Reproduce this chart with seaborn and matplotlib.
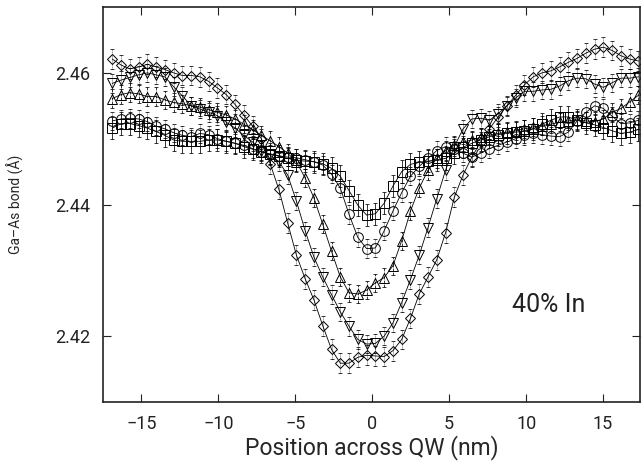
import numpy as np
import pandas as pd
import matplotlib
matplotlib.use('Agg')
import matplotlib.pyplot as plt
import seaborn as sns

# position across the quantum well (nm), one point per lattice spacing
pos = np.round(-16.9 + 0.57 * np.arange(61), 3)

# Ga-As bond length (A) for the five profiles
bond_square = [2.4516, 2.4523, 2.4523, 2.4520, 2.4516, 2.4511, 2.4505, 2.4498, 2.4496, 2.4496,
               2.4496, 2.4498, 2.4498, 2.4496, 2.4493, 2.4488, 2.4484, 2.4480, 2.4477, 2.4474,
               2.4470, 2.4467, 2.4466, 2.4465, 2.4462, 2.4455, 2.4443, 2.4421, 2.4399, 2.4384,
               2.4386, 2.4402, 2.4428, 2.4450, 2.4461, 2.4464, 2.4466, 2.4468, 2.4470, 2.4478,
               2.4487, 2.4493, 2.4498, 2.4503, 2.4506, 2.4509, 2.4510, 2.4511, 2.4515, 2.4522,
               2.4528, 2.4533, 2.4533, 2.4528, 2.4524, 2.4521, 2.4517, 2.4512, 2.4508, 2.4510,
               2.4514]
bond_circle = [2.4527, 2.4530, 2.4531, 2.4530, 2.4526, 2.4519, 2.4515, 2.4509, 2.4505, 2.4503,
               2.4508, 2.4506, 2.4500, 2.4496, 2.4493, 2.4490, 2.4485, 2.4480, 2.4476, 2.4474,
               2.4472, 2.4471, 2.4468, 2.4465, 2.4460, 2.4446, 2.4425, 2.4385, 2.4350, 2.4333,
               2.4334, 2.4360, 2.4390, 2.4418, 2.4443, 2.4458, 2.4470, 2.4482, 2.4488, 2.4485,
               2.4478, 2.4472, 2.4478, 2.4485, 2.4490, 2.4495, 2.4500, 2.4505, 2.4508, 2.4506,
               2.4504, 2.4503, 2.4510, 2.4527, 2.4540, 2.4550, 2.4546, 2.4534, 2.4523, 2.4524,
               2.4528]
bond_up = [2.4561, 2.4567, 2.4570, 2.4568, 2.4564, 2.4564, 2.4559, 2.4555, 2.4553, 2.4550,
           2.4548, 2.4544, 2.4540, 2.4536, 2.4530, 2.4522, 2.4514, 2.4505, 2.4497, 2.4488,
           2.4478, 2.4465, 2.4440, 2.4410, 2.4370, 2.4329, 2.4290, 2.4266, 2.4264, 2.4270,
           2.4281, 2.4289, 2.4307, 2.4345, 2.4390, 2.4425, 2.4452, 2.4470, 2.4482, 2.4490,
           2.4495, 2.4498, 2.4502, 2.4505, 2.4508, 2.4510, 2.4512, 2.4515, 2.4518, 2.4520,
           2.4522, 2.4525, 2.4527, 2.4528, 2.4527, 2.4526, 2.4530, 2.4540, 2.4546, 2.4556,
           2.4566]
bond_down = [2.4584, 2.4589, 2.4593, 2.4597, 2.4600, 2.4597, 2.4594, 2.4579, 2.4565, 2.4550,
             2.4545, 2.4540, 2.4535, 2.4525, 2.4516, 2.4505, 2.4495, 2.4482, 2.4475, 2.4465,
             2.4445, 2.4405, 2.4360, 2.4320, 2.4290, 2.4263, 2.4237, 2.4215, 2.4195, 2.4188,
             2.4189, 2.4200, 2.4220, 2.4251, 2.4286, 2.4323, 2.4365, 2.4409, 2.4452, 2.4488,
             2.4515, 2.4530, 2.4531, 2.4528, 2.4538, 2.4550, 2.4562, 2.4572, 2.4572, 2.4574,
             2.4575, 2.4580, 2.4588, 2.4592, 2.4591, 2.4583, 2.4578, 2.4585, 2.4592, 2.4592,
             2.4594]
bond_diamond = [2.4621, 2.4612, 2.4606, 2.4609, 2.4613, 2.4609, 2.4605, 2.4600, 2.4596, 2.4596,
                2.4594, 2.4587, 2.4577, 2.4567, 2.4552, 2.4536, 2.4519, 2.4500, 2.4462, 2.4423,
                2.4372, 2.4323, 2.4287, 2.4255, 2.4216, 2.4180, 2.4159, 2.4159, 2.4168, 2.4171,
                2.4170, 2.4169, 2.4178, 2.4195, 2.4227, 2.4264, 2.4290, 2.4316, 2.4357, 2.4411,
                2.4445, 2.4472, 2.4495, 2.4515, 2.4533, 2.4550, 2.4566, 2.4582, 2.4594, 2.4600,
                2.4603, 2.4609, 2.4616, 2.4622, 2.4630, 2.4636, 2.4639, 2.4634, 2.4626, 2.4621,
                2.4618]

# error bar half-widths (A)
err_square = 0.0017
err_circle = 0.0014
err_up = 0.0014
err_down = 0.0014
err_diamond = 0.0015

series = ['square', 'circle', 'up', 'down', 'diamond']
values = [bond_square, bond_circle, bond_up, bond_down, bond_diamond]
errors = [err_square, err_circle, err_up, err_down, err_diamond]
markers = {'square': 's', 'circle': 'o', 'up': '^', 'down': 'v', 'diamond': 'D'}
msizes = {'square': 7, 'circle': 7, 'up': 7, 'down': 7, 'diamond': 5.5}
err_style = {'square': '-', 'circle': ':', 'up': '--', 'down': ':', 'diamond': ':'}

df = pd.concat([pd.DataFrame({'pos': pos, 'bond': v, 'series': s})
                for s, v in zip(series, values)], ignore_index=True)

sns.set_style('ticks')
plt.rcParams['font.family'] = ['Roboto', 'DejaVu Sans']
plt.rcParams['text.color'] = '#222222'
plt.rcParams['xtick.color'] = '#222222'
plt.rcParams['ytick.color'] = '#222222'

fig = plt.figure(figsize=(6.41, 4.66), dpi=100)
ax = fig.add_axes([0.1607, 0.1373, 0.8378, 0.8476])

# error bars first
for s, v, e in zip(series, values, errors):
    eb = ax.errorbar(pos, v, yerr=e, fmt='none', ecolor='k', elinewidth=0.55,
                     capsize=1.6, capthick=0.55, zorder=1)
    eb.lines[2][0].set_linestyle(err_style[s])

# lines + open markers
for s in series:
    sub = df[df['series'] == s]
    sns.lineplot(data=sub, x='pos', y='bond', color='k', lw=0.6,
                 marker=markers[s], ms=msizes[s], mfc='none', mec='k', mew=0.7,
                 legend=False, ax=ax, zorder=2)

ax.set_xlim(-17.5, 17.4)
ax.set_ylim(2.41, 2.47)
ax.set_xticks([-15, -10, -5, 0, 5, 10, 15])
ax.set_xticklabels(['\u221215', '\u221210', '\u22125', '0', '5', '10', '15'])
ax.set_yticks([2.42, 2.44, 2.46])
ax.set_yticklabels(['2.42', '2.44', '2.46'])
ax.tick_params(direction='in', length=6, width=0.8, labelsize=13, pad=9,
               top=True, right=True)

for sp in ax.spines.values():
    sp.set_linewidth(1.2)
    sp.set_color('#222222')

ax.set_xlabel('Position across QW (nm)', fontsize=16.5, labelpad=2)
ax.set_ylabel('Ga\u2013As bond (\u00c5)', fontsize=10)
ax.yaxis.set_label_coords(-0.148, 0.5)

ax.text(9.07, 2.4236, '40% In', fontsize=18, ha='left', va='baseline')

fig.savefig('out.png', dpi=100)
